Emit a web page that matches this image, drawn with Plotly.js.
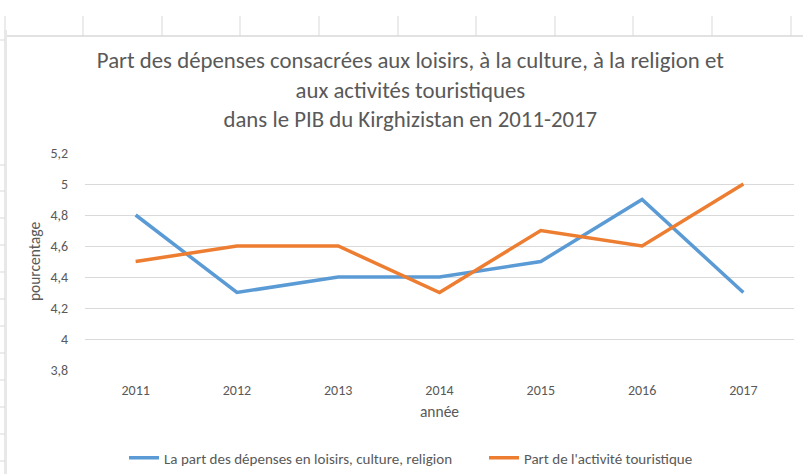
<!DOCTYPE html>
<html>
<head>
<meta charset="utf-8">
<script src="https://cdn.plot.ly/plotly-3.0.1.min.js"></script>
<style>
html,body{margin:0;padding:0;background:#fff;}
#chart{width:803px;height:474px;}
</style>
</head>
<body>
<div id="chart"></div>
<script>
const years = ["2011","2012","2013","2014","2015","2016","2017"];
const loisirs = [4.8, 4.3, 4.4, 4.4, 4.5, 4.9, 4.3];
const tourisme = [4.5, 4.6, 4.6, 4.3, 4.7, 4.6, 5.0];
const seriesNames = ["La part des dépenses en loisirs, culture, religion", "Part de l'activité touristique"];
const yTicks = [3.8, 4, 4.2, 4.4, 4.6, 4.8, 5, 5.2];

const W = 803, H = 474;
const M = {l: 85, r: 9, t: 153, b: 104};
const PW = W - M.l - M.r, PH = H - M.t - M.b;
const px = x => (x - M.l) / PW;
const py = y => (H - M.b - y) / PH;

const FONT = "Carlito, Calibri, Lato, sans-serif";
const GRAY = "#595959";
const SHEET = "#d9d9d9";

const shapes = [];
[5, 83, 162, 240, 319, 398, 476, 555, 633, 712, 791].forEach(x => {
  shapes.push({type: "line", xref: "paper", yref: "paper", x0: px(x), x1: px(x), y0: py(16), y1: py(36),
    line: {color: SHEET, width: 1}, layer: "below"});
});
shapes.push({type: "line", xref: "paper", yref: "paper", x0: px(5), x1: px(803), y0: py(36), y1: py(36),
  line: {color: SHEET, width: 1.5}, layer: "below"});
shapes.push({type: "rect", xref: "paper", yref: "paper", x0: px(4), x1: px(7), y0: py(30), y1: py(474),
  fillcolor: "#e8e8e8", line: {width: 0}, layer: "below"});
[40, 165, 191, 218, 245, 272, 299, 326, 353, 380, 407, 434, 461].forEach(y => {
  shapes.push({type: "line", xref: "paper", yref: "paper", x0: px(0), x1: px(5), y0: py(y), y1: py(y),
    line: {color: SHEET, width: 1}, layer: "below"});
});

const traces = [
  {x: years, y: loisirs, name: seriesNames[0], type: "scatter", mode: "lines",
   line: {color: "#5B9BD5", width: 3.5}, legend: "legend"},
  {x: years, y: tourisme, name: seriesNames[1], type: "scatter", mode: "lines",
   line: {color: "#ED7D31", width: 3.5}, legend: "legend2"}
];

const legendBase = {
  orientation: "h", xref: "container", yref: "container",
  xanchor: "left", y: 16 / H, yanchor: "middle",
  font: {family: FONT, size: 15, color: GRAY},
  itemwidth: 30, bgcolor: "rgba(0,0,0,0)"
};

const layout = {
  width: W, height: H,
  margin: M,
  paper_bgcolor: "#fff", plot_bgcolor: "#fff",
  separators: ", ",
  font: {family: FONT, color: GRAY, size: 14},
  title: {
    text: "Part des dépenses consacrées aux loisirs, à la culture, à la religion et<br>aux activités touristiques<br>dans le PIB du Kirghizistan en 2011-2017",
    font: {family: FONT, size: 22.8, color: GRAY},
    x: 0.511, xanchor: "center", xref: "container",
    y: 1 - 68 / H, yanchor: "top", yref: "container"
  },
  xaxis: {
    type: "category", range: [-0.5, 6.5],
    showgrid: false, zeroline: false, showline: false,
    ticks: "outside", ticklen: 7, tickcolor: "rgba(0,0,0,0)",
    tickfont: {family: FONT, size: 14, color: GRAY},
    title: {text: "année", font: {family: FONT, size: 15.5, color: GRAY}, standoff: 8}
  },
  yaxis: {
    range: [3.8, 5.2], tickvals: yTicks,
    showgrid: true, gridcolor: "#d9d9d9", gridwidth: 1, zeroline: false, showline: false,
    ticks: "outside", ticklen: 13, tickcolor: "rgba(0,0,0,0)",
    tickfont: {family: FONT, size: 14, color: GRAY},
    title: {text: "pourcentage", font: {family: FONT, size: 15.5, color: GRAY}, standoff: 6}
  },
  showlegend: true,
  legend: Object.assign({}, legendBase, {x: 124 / W}),
  legend2: Object.assign({}, legendBase, {x: 484 / W}),
  shapes: shapes
};

Plotly.newPlot("chart", traces, layout, {displayModeBar: false, staticPlot: true});
</script>
</body>
</html>
